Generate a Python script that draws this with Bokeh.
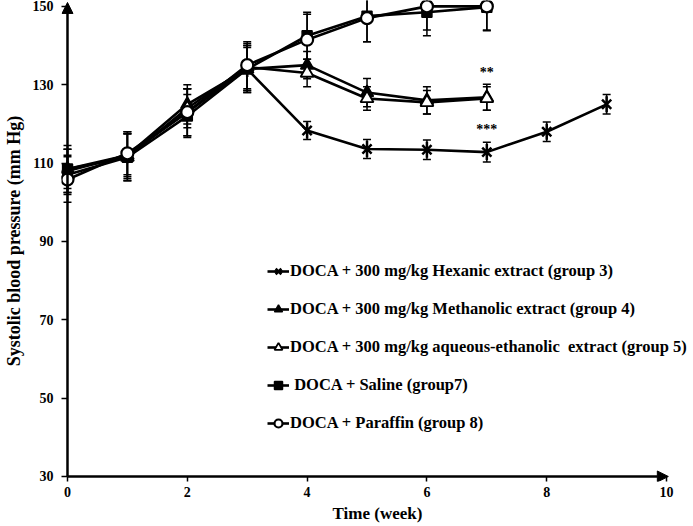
import math
from bokeh.plotting import figure
from bokeh.models import FixedTicker, Legend, LegendItem, Arrow, NormalHead
from bokeh.embed import file_html
from bokeh.resources import INLINE
from bokeh.core.properties import value

# ---------------- data ----------------
weeks = [0, 1, 2, 3, 4, 5, 6, 7]
hex_weeks = [0, 1, 2, 3, 4, 5, 6, 7, 8, 9]

hexanic = [108.0, 112.0, 123.0, 134.0, 118.3, 113.6, 113.4, 112.8, 118.0, 125.0]
hexanic_err = [5.5, 5.5, 6.0, 6.0, 2.3, 2.4, 2.5, 2.5, 2.5, 2.5]
methanolic = [108.5, 112.0, 125.0, 134.0, 135.0, 128.0, 126.0, 126.8]
methanolic_err = [6.0, 6.0, 5.0, 5.5, 3.5, 3.6, 3.5, 3.3]
aqueous = [107.0, 111.5, 124.0, 134.5, 133.0, 126.5, 125.5, 126.5]
aqueous_err = [5.0, 6.0, 5.0, 6.0, 3.5, 3.0, 3.0, 3.0]
saline = [108.5, 111.5, 122.0, 134.0, 142.5, 147.5, 148.5, 149.8]
saline_err = [5.0, 6.0, 5.5, 6.0, 6.0, 6.5, 6.0, 6.0]
paraffin = [105.8, 112.5, 123.0, 135.0, 141.5, 147.0, 150.0, 150.0]
paraffin_err = [5.8, 5.5, 6.0, 6.0, 6.5, 6.0, 6.0, 6.0]

series_labels = [
    "DOCA + 300 mg/kg Hexanic extract (group 3)",
    "DOCA + 300 mg/kg Methanolic extract (group 4)",
    "DOCA + 300 mg/kg aqueous-ethanolic  extract (group 5)",
    " DOCA + Saline (group7)",
    "DOCA + Paraffin (group 8)",
]

x_ticks = [0, 2, 4, 6, 8, 10]
y_ticks = [30, 50, 70, 90, 110, 130, 150]
x_bounds = (0, 10)
y_bounds = (30, 150)

sig_x = [7, 7]
sig_y = [133.2, 118.6]
sig_text = ["**", "***"]

x_title = "Time (week)"
y_title = "Systolic blood pressure (mm Hg)"

FONT = "Liberation Serif"

# ---------------- figure ----------------
p = figure(width=693, height=526, x_range=(-0.1, 10.45), y_range=(28.72, 151.5),
           output_backend="svg", toolbar_location=None,
           min_border_left=60, min_border_right=0, min_border_top=0,
           min_border_bottom=45)
p.grid.visible = False
p.outline_line_color = None
p.background_fill_color = "white"

for ax, ticks, bounds in ((p.xaxis[0], x_ticks, x_bounds), (p.yaxis[0], y_ticks, y_bounds)):
    ax.ticker = FixedTicker(ticks=ticks)
    ax.bounds = bounds
    ax.axis_line_color = None
    ax.major_tick_out = 0
    ax.major_tick_in = 6
    ax.major_tick_line_width = 1.5
    ax.major_tick_line_color = "black"
    ax.minor_tick_line_color = None
    ax.major_label_text_font = FONT
    ax.major_label_text_font_style = "bold"
    ax.major_label_text_font_size = "14px"
    ax.major_label_text_color = "black"
    ax.axis_label_text_font = FONT
    ax.axis_label_text_font_style = "bold"
    ax.axis_label_text_color = "black"

p.xaxis[0].major_tick_in = 5
p.xaxis[0].major_label_standoff = 5
p.xaxis[0].axis_label = x_title
p.xaxis[0].axis_label_text_font_size = "17px"
p.xaxis[0].axis_label_standoff = 4

p.yaxis[0].major_label_standoff = 8
p.yaxis[0].axis_label = y_title
p.yaxis[0].axis_label_text_font_size = "18px"
p.yaxis[0].axis_label_standoff = 6

# axis lines with arrow heads, drawn through the origin (x=0, y=30)
p.add_layout(Arrow(end=NormalHead(size=11, fill_color="black", line_color="black"),
                   x_start=x_bounds[0], y_start=y_bounds[0],
                   x_end=x_bounds[0], y_end=y_bounds[1] + 1.0,
                   line_width=2.5, line_color="black"))
p.add_layout(Arrow(end=NormalHead(size=11, fill_color="black", line_color="black"),
                   x_start=x_bounds[0], y_start=y_bounds[0],
                   x_end=x_bounds[1] + 0.03, y_end=y_bounds[0],
                   line_width=2.5, line_color="black"))


def errorbars(xs, ys, errs):
    lo = [y - e for y, e in zip(ys, errs)]
    hi = [y + e for y, e in zip(ys, errs)]
    p.segment(xs, lo, xs, hi, line_color="black", line_width=1.5)
    p.scatter(xs, lo, marker="dash", size=8, line_color="black", line_width=1.5)
    p.scatter(xs, hi, marker="dash", size=8, line_color="black", line_width=1.5)


errorbars(hex_weeks, hexanic, hexanic_err)
errorbars(weeks, methanolic, methanolic_err)
errorbars(weeks, aqueous, aqueous_err)
errorbars(weeks, saline, saline_err)
errorbars(weeks, paraffin, paraffin_err)

LW = 2.6
# hexanic (asterisk)
l1 = p.line(hex_weeks, hexanic, line_color="black", line_width=LW)
m1a = p.scatter(hex_weeks, hexanic, marker="x", size=13, line_color="black", line_width=2.5)
m1b = p.scatter(hex_weeks, hexanic, marker="dash", angle=math.pi / 2, size=16,
                line_color="black", line_width=2.5)
# methanolic (filled triangle)
l2 = p.line(weeks, methanolic, line_color="black", line_width=LW)
m2 = p.scatter(weeks, methanolic, marker="triangle", size=13, fill_color="black",
               line_color="black", line_width=1.5)
# aqueous-ethanolic (open triangle)
l3 = p.line(weeks, aqueous, line_color="black", line_width=LW)
m3 = p.scatter(weeks, aqueous, marker="triangle", size=13, fill_color="white",
               line_color="black", line_width=1.8)
# saline (filled square)
l4 = p.line(weeks, saline, line_color="black", line_width=LW)
m4 = p.scatter(weeks, saline, marker="square", size=10, fill_color="black",
               line_color="black", line_width=1.5)
# paraffin (open circle)
l5 = p.line(weeks, paraffin, line_color="black", line_width=LW)
m5 = p.scatter(weeks, paraffin, marker="circle", size=12, fill_color="white",
               line_color="black", line_width=2.2)

# significance marks
p.text(sig_x, sig_y, text=sig_text, text_align="center", text_baseline="middle",
       text_font=value(FONT), text_font_style="bold", text_font_size="14px",
       text_color="black")

legend = Legend(items=[
    LegendItem(label=series_labels[0], renderers=[l1, m1a, m1b]),
    LegendItem(label=series_labels[1], renderers=[l2, m2]),
    LegendItem(label=series_labels[2], renderers=[l3, m3]),
    LegendItem(label=series_labels[3], renderers=[l4, m4]),
    LegendItem(label=series_labels[4], renderers=[l5, m5]),
], location=(206, 48), orientation="vertical",
    label_text_font=FONT, label_text_font_style="bold",
    label_text_font_size="16.5px", label_text_color="black",
    glyph_width=22, glyph_height=20, label_height=20, spacing=18,
    padding=0, margin=0, border_line_color=None, background_fill_alpha=0,
    label_standoff=1)
p.add_layout(legend)

open("out.html", "w").write(file_html(p, INLINE))
